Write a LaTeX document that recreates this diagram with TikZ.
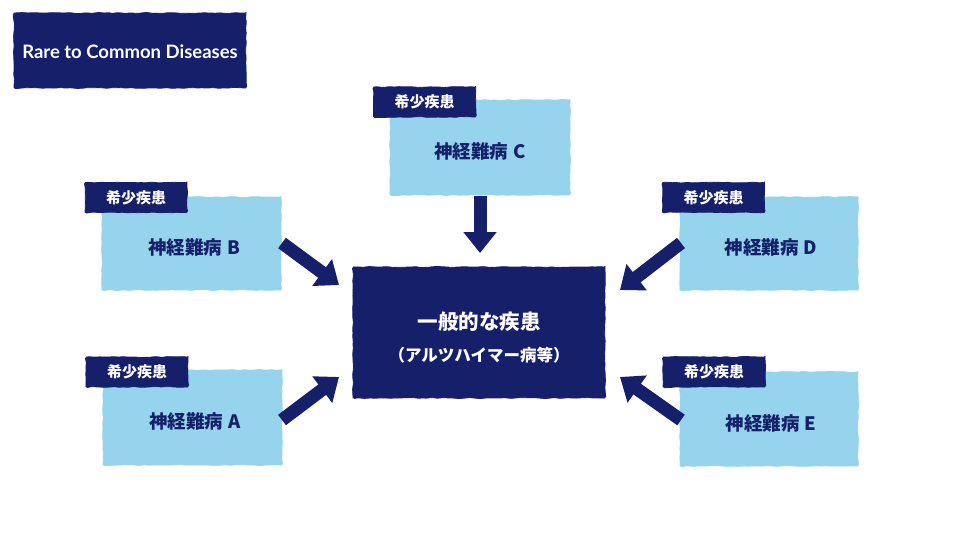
\documentclass[tikz,border=0pt]{standalone}
\usepackage{fontspec}
\setmainfont{Noto Sans CJK JP}
\newfontfamily\latinfont{Lato}
\usetikzlibrary{arrows.meta,decorations.pathmorphing}
\definecolor{navy}{HTML}{16206A}
\definecolor{sky}{HTML}{95D4EC}
\tikzset{
  rough/.style={decorate,decoration={random steps,segment length=4pt,amplitude=0.5pt},rounded corners=1.5pt},
  darkbox/.style={rough,fill=navy,draw=navy,line width=0.8pt,text=white,font=\bfseries,inner sep=0pt},
  lightbox/.style={rough,fill=sky,draw=sky,line width=0.8pt,inner sep=0pt},
  tagbox/.style={darkbox,minimum width=102pt,minimum height=30pt,font=\bfseries\fontsize{15}{15}\selectfont},
  boxlabel/.style={text=navy,font=\bfseries\fontsize{18.5}{18.5}\selectfont},
  bigarrow/.style={draw=navy,line width=13pt,-{Triangle[width=32pt,length=21pt]}}
}
\newcommand{\gap}{\hspace{5pt}}
\begin{document}
\begin{tikzpicture}[x=1pt,y=-1pt]
\useasboundingbox (0,0) rectangle (960,540);
\pgfmathsetseed{7}
% title
\node[darkbox,minimum width=232pt,minimum height=75pt,text depth=0pt,text height=11pt,font=\latinfont\bfseries\fontsize{18.5}{18.5}\selectfont] (title) at (130,50.5) {\raisebox{-2.5pt}{Rare to Common Diseases}};
% boxes
\node[lightbox,minimum width=180pt,minimum height=95pt] (c) at (480,147.5) {};
\node[lightbox,minimum width=179pt,minimum height=93pt] (b) at (191.5,243.5) {};
\node[lightbox,minimum width=179pt,minimum height=95pt] (a) at (192.5,417.5) {};
\node[lightbox,minimum width=178pt,minimum height=93pt] (d) at (769,243.5) {};
\node[lightbox,minimum width=178pt,minimum height=94pt] (e) at (769,419) {};
% labels
\node[boxlabel] (cl) at (480,151.5) {神経難病\gap C};
\node[boxlabel] (bl) at (194,247.5) {神経難病\gap B};
\node[boxlabel] (al) at (195,421.5) {神経難病\gap A};
\node[boxlabel] (dl) at (771,247.5) {神経難病\gap D};
\node[boxlabel] (el) at (771,423) {神経難病\gap E};
% tags
\node[tagbox] (ct) at (424.5,102) {希少疾患};
\node[tagbox] (bt) at (136,197.5) {希少疾患};
\node[tagbox] (at) at (137,372) {希少疾患};
\node[tagbox] (dt) at (713.5,197.5) {希少疾患};
\node[tagbox] (et) at (714,372) {希少疾患};
% center
\node[darkbox,minimum width=252pt,minimum height=131pt] (m) at (479,332.5) {};
\node[text=white,font=\bfseries\fontsize{20.5}{20.5}\selectfont] (m1) at (479,322) {一般的な疾患};
\node[text=white,font=\bfseries\fontsize{16.5}{16.5}\selectfont] (m2) at (479,355) {（アルツハイマー病等）};
% arrow ends
\coordinate (cs) at (480,196);
\coordinate (ce) at (480,253);
\coordinate (bs) at (282,243);
\coordinate (be) at (339,285);
\coordinate (as) at (282,420);
\coordinate (ae) at (339,377);
\coordinate (ds) at (681,243);
\coordinate (de) at (620,290);
\coordinate (es) at (681,420);
\coordinate (ee) at (620,377);
\draw[bigarrow] (cs) -- (ce);
\draw[bigarrow] (bs) -- (be);
\draw[bigarrow] (as) -- (ae);
\draw[bigarrow] (ds) -- (de);
\draw[bigarrow] (es) -- (ee);
\end{tikzpicture}
\end{document}
